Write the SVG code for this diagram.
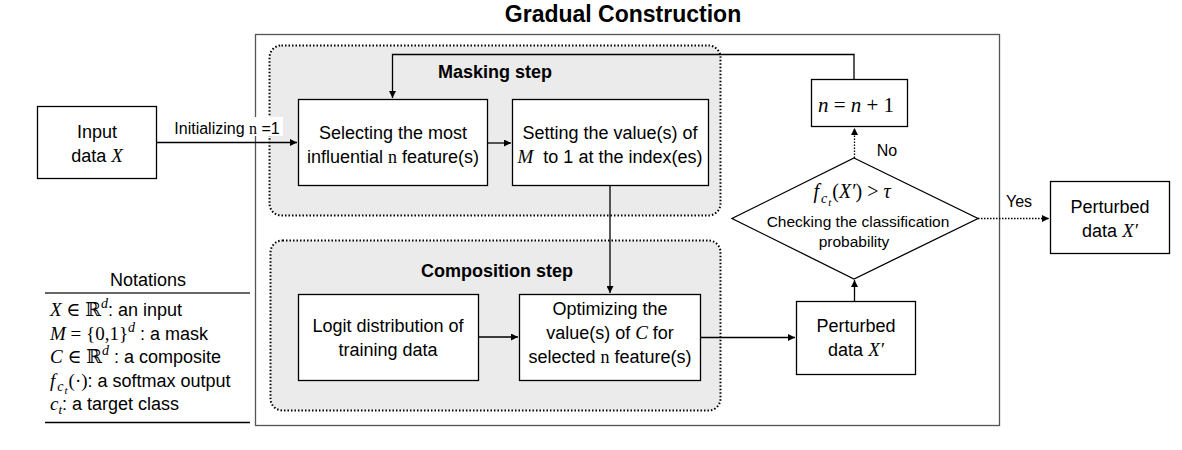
<svg xmlns="http://www.w3.org/2000/svg" width="1182" height="450" viewBox="0 0 1182 450">
<defs>
<marker id="ah" viewBox="0 0 10 10" refX="10" refY="5" markerWidth="7" markerHeight="7" markerUnits="userSpaceOnUse" orient="auto"><path d="M0,0 L10,5 L0,10 z" fill="#000"/></marker>
<style>
text{font-family:"Liberation Sans",Arial,sans-serif;font-size:18px;fill:#000;text-anchor:middle}
.m{font-family:"Liberation Serif","DejaVu Serif",serif;font-style:italic}
.r{font-family:"Liberation Serif","DejaVu Serif",serif}
.b{font-weight:bold}
.s{font-size:16px}
.box{fill:#fff;stroke:#000;stroke-width:1.3}
.grp{fill:#ebebeb;stroke:#000;stroke-width:2;stroke-dasharray:1.5 2}
.ln{fill:none;stroke:#000;stroke-width:1.3}
.dot{fill:none;stroke:#000;stroke-width:1.3;stroke-dasharray:1.5 1.5}
.nt{text-anchor:start}
</style>
</defs>
<rect width="1182" height="450" fill="#fff"/>
<text x="623" y="22" class="b" style="font-size:23px">Gradual Construction</text>
<rect x="255.5" y="34.5" width="744" height="391" fill="#fff" stroke="#555" stroke-width="1.3"/>
<g id="masking-group"><rect class="grp" x="269.5" y="45.5" width="451" height="170" rx="12"/>
<text x="495" y="78" class="b">Masking step</text></g>
<g id="composition-group"><rect class="grp" x="270.5" y="240.5" width="450" height="170" rx="12"/>
<text x="497" y="277" class="b">Composition step</text></g>
<g id="connectors">
<line class="ln" x1="157" y1="142.5" x2="297" y2="142.5" marker-end="url(#ah)"/>
<line class="ln" x1="488" y1="143" x2="511" y2="143" marker-end="url(#ah)"/>
<polyline class="ln" points="854,79 854,54.5 392.5,54.5 392.5,98" marker-end="url(#ah)"/>
<line class="ln" x1="610" y1="186" x2="610" y2="293" marker-end="url(#ah)"/>
<line class="ln" x1="478" y1="337" x2="518" y2="337" marker-end="url(#ah)"/>
<line class="ln" x1="700" y1="337.5" x2="795" y2="337.5" marker-end="url(#ah)"/>
<line class="ln" x1="854.5" y1="301" x2="854.5" y2="280" marker-end="url(#ah)"/>
<line class="dot" x1="854.5" y1="158" x2="854.5" y2="128" marker-end="url(#ah)"/>
<line class="dot" x1="978" y1="218.5" x2="1049" y2="218.5" marker-end="url(#ah)"/>
<rect x="170" y="117" width="113" height="19" fill="#fff"/>
<text x="227" y="134" class="s">Initializing <tspan class="r">n</tspan> =1</text>
<text x="887" y="156" class="s">No</text>
<text x="1019" y="207" class="s">Yes</text>
</g>
<g id="input"><rect class="box" x="37.5" y="106.5" width="119" height="72"/>
<text x="97" y="138">Input</text><text x="97" y="162">data <tspan class="m" font-size="19">X</tspan></text></g>
<g id="selecting"><rect class="box" x="298.5" y="99.5" width="189" height="86"/>
<text x="393" y="139">Selecting the most</text><text x="393" y="163">influential <tspan class="r">n</tspan> feature(s)</text></g>
<g id="setting"><rect class="box" x="512.5" y="99.5" width="196" height="86"/>
<text x="610" y="139">Setting the value(s) of</text><text x="610" y="163" xml:space="preserve"><tspan class="m" font-size="19">M</tspan>  to 1 at the index(es)</text></g>
<g id="logit"><rect class="box" x="298.5" y="294.5" width="180" height="86"/>
<text x="388" y="332">Logit distribution of</text><text x="388" y="356">training data</text></g>
<g id="optimizing"><rect class="box" x="519.5" y="294.5" width="181" height="86"/>
<text x="610" y="315">Optimizing the</text><text x="610" y="339">value(s) of <tspan class="m" font-size="19">C</tspan> for</text><text x="610" y="363">selected <tspan class="r">n</tspan> feature(s)</text></g>
<g id="perturbed-inner"><rect class="box" x="796.5" y="301.5" width="119" height="73"/>
<text x="856" y="332">Perturbed</text><text x="856" y="356">data <tspan class="m" font-size="19">X′</tspan></text></g>
<g id="increment"><rect class="box" x="811.5" y="79.5" width="96" height="47"/>
<text x="856" y="112" class="r" style="font-size:21px"><tspan class="m">n</tspan> = <tspan class="m">n</tspan> + 1</text></g>
<g id="decision"><polygon class="box" points="854,158 978,218.5 854,279 732,218.5"/>
<text x="852" y="198" class="r" style="font-size:20px"><tspan class="m">f</tspan><tspan class="m" dx="2" dy="5" font-size="14">c</tspan><tspan class="m" dx="1" dy="3" font-size="11">t</tspan><tspan dx="1" dy="-8">(</tspan><tspan class="m">X′</tspan>) &gt; <tspan class="m">τ</tspan></text>
<text x="858" y="227" style="font-size:15.5px">Checking the classification</text><text x="854" y="247" style="font-size:15.5px">probability</text></g>
<g id="perturbed-output"><rect class="box" x="1050.5" y="181.5" width="119" height="72"/>
<text x="1110" y="213">Perturbed</text><text x="1110" y="237">data <tspan class="m" font-size="19">X′</tspan></text></g>
<g id="notations">
<text x="148" y="286">Notations</text>
<line x1="45" y1="293" x2="250" y2="293" stroke="#333" stroke-width="1.3"/>
<text x="50" y="316" class="nt"><tspan class="m" font-size="19">X</tspan><tspan class="r" font-size="19"> ∈ ℝ</tspan><tspan class="m" dy="-8" font-size="14">d</tspan><tspan dy="8">: an input</tspan></text>
<text x="50" y="340" class="nt"><tspan class="m" font-size="19">M</tspan><tspan class="r" font-size="19"> = {0,1}</tspan><tspan class="m" dy="-8" font-size="14">d</tspan><tspan dy="8"> : a mask</tspan></text>
<text x="50" y="363" class="nt"><tspan class="m" font-size="19">C</tspan><tspan class="r" font-size="19"> ∈ ℝ</tspan><tspan class="m" dy="-8" font-size="14">d</tspan><tspan dy="8"> : a composite</tspan></text>
<text x="50" y="387" class="nt"><tspan class="m" font-size="19">f</tspan><tspan class="m" dx="2" dy="4" font-size="14">c</tspan><tspan class="m" dx="1" dy="3" font-size="11">t</tspan><tspan class="r" dx="1" dy="-7" font-size="19">(·)</tspan>: a softmax output</text>
<text x="50" y="410" class="nt"><tspan class="m" font-size="19">c</tspan><tspan class="m" dy="4" font-size="13">t</tspan><tspan dy="-4">: a target class</tspan></text>
<line x1="45" y1="422.5" x2="250" y2="422.5" stroke="#000" stroke-width="1.3"/>
</g>
</svg>
